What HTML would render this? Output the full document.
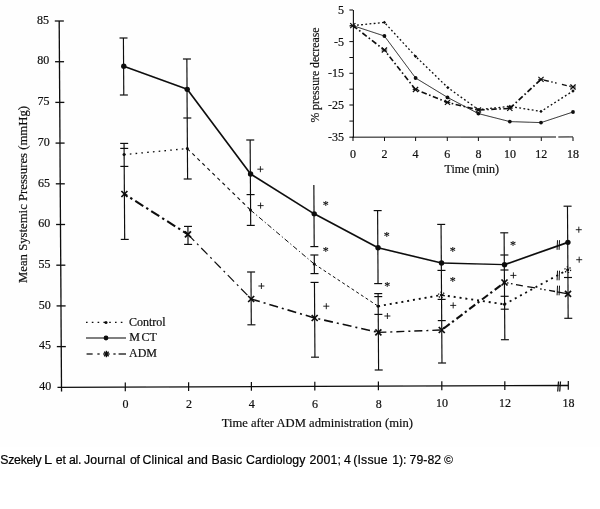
<!DOCTYPE html>
<html lang="en">
<head>
<meta charset="utf-8">
<title>Mean Systemic Pressures after ADM administration</title>
<style>
html,body{margin:0;padding:0;background:#fff;}
body{width:600px;height:509px;overflow:hidden;position:relative;font-family:"Liberation Sans",sans-serif;}
#chart{position:absolute;left:0;top:0;width:600px;height:447px;display:block;}
#chart g.ink{filter:url(#soft);}
#chart line,#chart polyline{stroke:#0c0c0c;stroke-linecap:butt;}
#chart text{fill:#0c0c0c;stroke:#0c0c0c;stroke-width:0.18px;}
#chart g.marks text{transform-box:fill-box;}
#chart text.s{font-family:"Liberation Serif",serif;}
#caption{position:absolute;left:0;top:453px;width:600px;height:14px;margin:0;font-family:"Liberation Sans",sans-serif;font-size:12.3px;line-height:14px;color:#000;white-space:nowrap;}
#caption span{position:absolute;top:0;-webkit-text-stroke:0.2px #000;}
#caption span.c{font-weight:bold;-webkit-text-stroke:0;}
#caption span.w{transform:scaleX(1.2);transform-origin:0 0;}
</style>
</head>
<body>
<svg id="chart" width="600" height="447" viewBox="0 0 600 447">
<rect x="0" y="0" width="600" height="447" fill="#fefefe" stroke="none"/>
<defs><filter id="soft" x="0" y="0" width="600" height="447" filterUnits="userSpaceOnUse"><feGaussianBlur stdDeviation="0.3"/></filter></defs>
<g class="ink">
<line x1="59.20" y1="21.00" x2="61.53" y2="391.50" stroke-width="1.3" />
<line x1="57.50" y1="387.31" x2="568.30" y2="385.50" stroke-width="1.3" />
<line x1="558.50" y1="381.50" x2="557.70" y2="391.50" stroke-width="1.2" stroke="#444"/>
<line x1="560.50" y1="381.50" x2="559.70" y2="391.50" stroke-width="1.2" stroke="#444"/>
<line x1="54.80" y1="21.00" x2="63.80" y2="21.00" stroke-width="1.3" />
<text class="s" x="49.00" y="23.70" font-size="12" text-anchor="end" >85</text>
<line x1="55.06" y1="61.70" x2="64.06" y2="61.70" stroke-width="1.3" />
<text class="s" x="49.26" y="64.40" font-size="12" text-anchor="end" >80</text>
<line x1="55.31" y1="102.40" x2="64.31" y2="102.40" stroke-width="1.3" />
<text class="s" x="49.51" y="105.10" font-size="12" text-anchor="end" >75</text>
<line x1="55.57" y1="143.10" x2="64.57" y2="143.10" stroke-width="1.3" />
<text class="s" x="49.77" y="145.80" font-size="12" text-anchor="end" >70</text>
<line x1="55.82" y1="183.80" x2="64.82" y2="183.80" stroke-width="1.3" />
<text class="s" x="50.02" y="186.50" font-size="12" text-anchor="end" >65</text>
<line x1="56.08" y1="224.50" x2="65.08" y2="224.50" stroke-width="1.3" />
<text class="s" x="50.28" y="227.20" font-size="12" text-anchor="end" >60</text>
<line x1="56.33" y1="265.20" x2="65.33" y2="265.20" stroke-width="1.3" />
<text class="s" x="50.53" y="267.90" font-size="12" text-anchor="end" >55</text>
<line x1="56.59" y1="305.90" x2="65.59" y2="305.90" stroke-width="1.3" />
<text class="s" x="50.79" y="308.60" font-size="12" text-anchor="end" >50</text>
<line x1="56.84" y1="346.60" x2="65.84" y2="346.60" stroke-width="1.3" />
<text class="s" x="51.04" y="349.30" font-size="12" text-anchor="end" >45</text>
<text class="s" x="51.30" y="390.00" font-size="12" text-anchor="end" >40</text>
<line x1="125.30" y1="382.47" x2="125.30" y2="391.27" stroke-width="1.2" />
<text class="s" x="125.60" y="407.80" font-size="12" text-anchor="middle" >0</text>
<line x1="188.60" y1="382.25" x2="188.60" y2="391.05" stroke-width="1.2" />
<text class="s" x="188.90" y="407.80" font-size="12" text-anchor="middle" >2</text>
<line x1="251.40" y1="382.03" x2="251.40" y2="390.83" stroke-width="1.2" />
<text class="s" x="251.70" y="407.80" font-size="12" text-anchor="middle" >4</text>
<line x1="314.80" y1="381.80" x2="314.80" y2="390.60" stroke-width="1.2" />
<text class="s" x="315.10" y="407.80" font-size="12" text-anchor="middle" >6</text>
<line x1="378.40" y1="381.57" x2="378.40" y2="390.37" stroke-width="1.2" />
<text class="s" x="378.70" y="407.80" font-size="12" text-anchor="middle" >8</text>
<line x1="441.80" y1="381.35" x2="441.80" y2="390.15" stroke-width="1.2" />
<text class="s" x="442.10" y="407.00" font-size="12" text-anchor="middle" >10</text>
<line x1="504.80" y1="381.13" x2="504.80" y2="389.93" stroke-width="1.2" />
<text class="s" x="505.10" y="407.00" font-size="12" text-anchor="middle" >12</text>
<line x1="568.30" y1="380.90" x2="568.30" y2="389.70" stroke-width="1.2" />
<text class="s" x="568.60" y="407.00" font-size="12" text-anchor="middle" >18</text>
<text class="s" x="221.70" y="427.30" font-size="12.6" text-anchor="start" textLength="191.3" lengthAdjust="spacingAndGlyphs">Time after ADM administration (min)</text>
<text class="s" font-size="12.6" text-anchor="start" textLength="177" lengthAdjust="spacingAndGlyphs" transform="translate(27.2,283) rotate(-90)">Mean Systemic Pressures (mmHg)</text>
<line x1="123.41" y1="38.00" x2="123.77" y2="95.00" stroke-width="1.15" stroke="#222"/>
<line x1="124.07" y1="143.40" x2="124.68" y2="239.40" stroke-width="1.15" stroke="#222"/>
<line x1="119.51" y1="38.00" x2="127.51" y2="38.00" stroke-width="1.15" />
<line x1="119.87" y1="95.00" x2="127.87" y2="95.00" stroke-width="1.15" />
<line x1="120.17" y1="143.40" x2="128.17" y2="143.40" stroke-width="1.15" />
<line x1="120.20" y1="148.40" x2="128.20" y2="148.40" stroke-width="1.15" />
<line x1="120.32" y1="166.40" x2="128.32" y2="166.40" stroke-width="1.15" />
<line x1="120.78" y1="239.40" x2="128.78" y2="239.40" stroke-width="1.15" />
<line x1="186.84" y1="59.00" x2="187.60" y2="179.00" stroke-width="1.15" stroke="#222"/>
<line x1="187.89" y1="226.40" x2="188.01" y2="244.40" stroke-width="1.15" stroke="#222"/>
<line x1="182.94" y1="59.00" x2="190.94" y2="59.00" stroke-width="1.15" />
<line x1="183.31" y1="118.00" x2="191.31" y2="118.00" stroke-width="1.15" />
<line x1="183.70" y1="179.00" x2="191.70" y2="179.00" stroke-width="1.15" />
<line x1="183.99" y1="226.40" x2="191.99" y2="226.40" stroke-width="1.15" />
<line x1="184.11" y1="244.40" x2="192.11" y2="244.40" stroke-width="1.15" />
<line x1="250.15" y1="140.00" x2="250.69" y2="225.40" stroke-width="1.15" stroke="#222"/>
<line x1="250.98" y1="272.00" x2="251.31" y2="324.80" stroke-width="1.15" stroke="#222"/>
<line x1="246.25" y1="140.00" x2="254.25" y2="140.00" stroke-width="1.15" />
<line x1="246.59" y1="194.60" x2="254.59" y2="194.60" stroke-width="1.15" />
<line x1="246.79" y1="225.40" x2="254.79" y2="225.40" stroke-width="1.15" />
<line x1="247.08" y1="272.00" x2="255.08" y2="272.00" stroke-width="1.15" />
<line x1="247.41" y1="324.80" x2="255.41" y2="324.80" stroke-width="1.15" />
<line x1="313.83" y1="185.00" x2="314.22" y2="246.60" stroke-width="1.15" stroke="#222"/>
<line x1="314.27" y1="255.00" x2="314.39" y2="273.60" stroke-width="1.15" stroke="#222"/>
<line x1="314.45" y1="282.40" x2="314.92" y2="357.20" stroke-width="1.15" stroke="#222"/>
<line x1="310.32" y1="246.60" x2="318.32" y2="246.60" stroke-width="1.15" />
<line x1="310.37" y1="255.00" x2="318.37" y2="255.00" stroke-width="1.15" />
<line x1="310.49" y1="273.60" x2="318.49" y2="273.60" stroke-width="1.15" />
<line x1="310.55" y1="282.40" x2="318.55" y2="282.40" stroke-width="1.15" />
<line x1="311.02" y1="357.20" x2="319.02" y2="357.20" stroke-width="1.15" />
<line x1="377.59" y1="210.60" x2="378.05" y2="283.60" stroke-width="1.15" stroke="#222"/>
<line x1="378.12" y1="293.60" x2="378.60" y2="370.00" stroke-width="1.15" stroke="#222"/>
<line x1="373.69" y1="210.60" x2="381.69" y2="210.60" stroke-width="1.15" />
<line x1="374.15" y1="283.60" x2="382.15" y2="283.60" stroke-width="1.15" />
<line x1="374.22" y1="293.60" x2="382.22" y2="293.60" stroke-width="1.15" />
<line x1="374.24" y1="296.60" x2="382.24" y2="296.60" stroke-width="1.15" />
<line x1="374.35" y1="314.40" x2="382.35" y2="314.40" stroke-width="1.15" />
<line x1="374.70" y1="370.00" x2="382.70" y2="370.00" stroke-width="1.15" />
<line x1="441.08" y1="224.40" x2="441.96" y2="363.00" stroke-width="1.15" stroke="#222"/>
<line x1="437.18" y1="224.40" x2="445.18" y2="224.40" stroke-width="1.15" />
<line x1="437.47" y1="270.40" x2="445.47" y2="270.40" stroke-width="1.15" />
<line x1="437.65" y1="299.40" x2="445.65" y2="299.40" stroke-width="1.15" />
<line x1="437.79" y1="320.60" x2="445.79" y2="320.60" stroke-width="1.15" />
<line x1="438.06" y1="363.00" x2="446.06" y2="363.00" stroke-width="1.15" />
<line x1="504.13" y1="232.80" x2="504.81" y2="339.70" stroke-width="1.15" stroke="#222"/>
<line x1="500.23" y1="232.80" x2="508.23" y2="232.80" stroke-width="1.15" />
<line x1="500.37" y1="255.00" x2="508.37" y2="255.00" stroke-width="1.15" />
<line x1="500.47" y1="270.00" x2="508.47" y2="270.00" stroke-width="1.15" />
<line x1="500.63" y1="296.30" x2="508.63" y2="296.30" stroke-width="1.15" />
<line x1="500.72" y1="309.20" x2="508.72" y2="309.20" stroke-width="1.15" />
<line x1="500.91" y1="339.70" x2="508.91" y2="339.70" stroke-width="1.15" />
<line x1="567.47" y1="206.20" x2="568.17" y2="318.30" stroke-width="1.15" stroke="#222"/>
<line x1="563.57" y1="206.20" x2="571.57" y2="206.20" stroke-width="1.15" />
<line x1="564.02" y1="277.50" x2="572.02" y2="277.50" stroke-width="1.15" />
<line x1="564.27" y1="318.30" x2="572.27" y2="318.30" stroke-width="1.15" />
<polyline points="123.78,66.15 187.23,89.35 250.56,173.95 314.21,213.85 378.03,247.75 441.52,263.05" fill="none" stroke-width="1.65" stroke-linejoin="round"/>
<polyline points="441.52,263.05 504.53,264.65" fill="none" stroke-width="1.4" />
<polyline points="504.53,264.65 567.89,242.35" fill="none" stroke-width="1.65" />
<polyline points="124.04,154.60 187.30,148.60" fill="none" stroke-width="1.3" stroke-dasharray="1.6 4.2"/>
<polyline points="187.30,148.60 250.49,210.00" fill="none" stroke-width="1.1" stroke-dasharray="3.5 3.5"/>
<polyline points="250.49,210.00 314.23,264.00" fill="none" stroke-width="1.0" stroke-dasharray="5 2.5 1.2 2.5"/>
<polyline points="314.23,264.00 378.10,306.20" fill="none" stroke-width="1.0" stroke-dasharray="3 2.6"/>
<polyline points="378.10,306.20 441.43,295.00 504.49,304.30" fill="none" stroke-width="1.9" stroke-dasharray="2 3.9"/>
<polyline points="504.49,304.30 567.77,269.70" fill="none" stroke-width="1.8" stroke-dasharray="2 3.9"/>
<polyline points="124.39,194.00 187.94,234.40" fill="none" stroke-width="2.1" stroke-dasharray="9.5 3.5 2.4 3.5" stroke-dashoffset="6"/>
<polyline points="187.94,234.40 251.15,299.00" fill="none" stroke-width="1.2" stroke-dasharray="9 4 2 4"/>
<polyline points="251.15,299.00 314.67,318.00 378.36,332.40" fill="none" stroke-width="1.6" stroke-dasharray="9 4 2 4"/>
<polyline points="378.36,332.40 441.75,330.00" fill="none" stroke-width="1.4" stroke-dasharray="8 4 2 4"/>
<polyline points="441.75,330.00 504.45,282.50" fill="none" stroke-width="2.1" stroke-dasharray="7.5 3 2.2 3.3" stroke-dashoffset="-2.5"/>
<polyline points="504.45,282.50 568.02,293.80" fill="none" stroke-width="1.3" stroke-dasharray="0 2.5 1.6 2.5 1.6 3.5 7 4.5 8 5 1.6 2.5 1.6 3.5 6 2 40 0"/>
<line x1="557.50" y1="240.20" x2="557.10" y2="249.80" stroke-width="1.0" stroke="#444"/>
<line x1="559.50" y1="240.20" x2="559.10" y2="249.80" stroke-width="1.0" stroke="#444"/>
<line x1="557.50" y1="270.70" x2="557.10" y2="280.30" stroke-width="1.0" stroke="#444"/>
<line x1="559.50" y1="270.70" x2="559.10" y2="280.30" stroke-width="1.0" stroke="#444"/>
<line x1="557.50" y1="285.70" x2="557.10" y2="295.30" stroke-width="1.0" stroke="#444"/>
<line x1="559.50" y1="285.70" x2="559.10" y2="295.30" stroke-width="1.0" stroke="#444"/>
<circle cx="123.78" cy="66.14999999999999" r="2.7" stroke="none" fill="#0c0c0c"/>
<circle cx="187.23" cy="89.35" r="2.7" stroke="none" fill="#0c0c0c"/>
<circle cx="250.56" cy="173.95" r="2.7" stroke="none" fill="#0c0c0c"/>
<circle cx="314.21" cy="213.85" r="2.7" stroke="none" fill="#0c0c0c"/>
<circle cx="378.03" cy="247.75" r="2.7" stroke="none" fill="#0c0c0c"/>
<circle cx="441.52" cy="263.05" r="2.7" stroke="none" fill="#0c0c0c"/>
<circle cx="504.53" cy="264.65000000000003" r="2.7" stroke="none" fill="#0c0c0c"/>
<circle cx="567.89" cy="242.35" r="2.7" stroke="none" fill="#0c0c0c"/>
<circle cx="124.04" cy="154.6" r="1.5" stroke="none" fill="#0c0c0c"/>
<circle cx="187.30" cy="148.6" r="1.5" stroke="none" fill="#0c0c0c"/>
<circle cx="250.49" cy="210" r="1.5" stroke="none" fill="#0c0c0c"/>
<circle cx="314.23" cy="264" r="1.5" stroke="none" fill="#0c0c0c"/>
<circle cx="378.10" cy="306.2" r="1.5" stroke="none" fill="#0c0c0c"/>
<circle cx="441.43" cy="295" r="1.5" stroke="none" fill="#0c0c0c"/>
<circle cx="504.49" cy="304.3" r="1.5" stroke="none" fill="#0c0c0c"/>
<circle cx="567.77" cy="269.7" r="1.5" stroke="none" fill="#0c0c0c"/>
<circle cx="441.43" cy="295" r="2.9" fill="none" stroke="#0c0c0c" stroke-width="1.2" stroke-dasharray="1.3 1.75"/>
<circle cx="567.77" cy="269.7" r="2.9" fill="none" stroke="#0c0c0c" stroke-width="1.2" stroke-dasharray="1.3 1.75"/>
<line x1="121.39" y1="191.00" x2="127.39" y2="197.00" stroke-width="1.7" />
<line x1="121.39" y1="197.00" x2="127.39" y2="191.00" stroke-width="1.7" />
<line x1="184.94" y1="231.40" x2="190.94" y2="237.40" stroke-width="1.7" />
<line x1="184.94" y1="237.40" x2="190.94" y2="231.40" stroke-width="1.7" />
<line x1="248.15" y1="296.00" x2="254.15" y2="302.00" stroke-width="1.7" />
<line x1="248.15" y1="302.00" x2="254.15" y2="296.00" stroke-width="1.7" />
<line x1="311.67" y1="315.00" x2="317.67" y2="321.00" stroke-width="1.7" />
<line x1="311.67" y1="321.00" x2="317.67" y2="315.00" stroke-width="1.7" />
<line x1="375.36" y1="329.40" x2="381.36" y2="335.40" stroke-width="1.7" />
<line x1="375.36" y1="335.40" x2="381.36" y2="329.40" stroke-width="1.7" />
<line x1="438.75" y1="327.00" x2="444.75" y2="333.00" stroke-width="1.7" />
<line x1="438.75" y1="333.00" x2="444.75" y2="327.00" stroke-width="1.7" />
<line x1="501.45" y1="279.50" x2="507.45" y2="285.50" stroke-width="1.7" />
<line x1="501.45" y1="285.50" x2="507.45" y2="279.50" stroke-width="1.7" />
<line x1="565.02" y1="290.80" x2="571.02" y2="296.80" stroke-width="1.7" />
<line x1="565.02" y1="296.80" x2="571.02" y2="290.80" stroke-width="1.7" />
<line x1="257.40" y1="169.20" x2="263.40" y2="169.20" stroke-width="0.9" />
<line x1="260.40" y1="166.20" x2="260.40" y2="172.20" stroke-width="0.9" />
<line x1="257.60" y1="205.60" x2="263.60" y2="205.60" stroke-width="0.9" />
<line x1="260.60" y1="202.60" x2="260.60" y2="208.60" stroke-width="0.9" />
<line x1="258.40" y1="286.00" x2="264.40" y2="286.00" stroke-width="0.9" />
<line x1="261.40" y1="283.00" x2="261.40" y2="289.00" stroke-width="0.9" />
<line x1="323.30" y1="306.20" x2="329.30" y2="306.20" stroke-width="0.9" />
<line x1="326.30" y1="303.20" x2="326.30" y2="309.20" stroke-width="0.9" />
<line x1="384.40" y1="316.00" x2="390.40" y2="316.00" stroke-width="0.9" />
<line x1="387.40" y1="313.00" x2="387.40" y2="319.00" stroke-width="0.9" />
<line x1="450.20" y1="305.40" x2="456.20" y2="305.40" stroke-width="0.9" />
<line x1="453.20" y1="302.40" x2="453.20" y2="308.40" stroke-width="0.9" />
<line x1="510.40" y1="275.40" x2="516.40" y2="275.40" stroke-width="0.9" />
<line x1="513.40" y1="272.40" x2="513.40" y2="278.40" stroke-width="0.9" />
<line x1="575.80" y1="229.70" x2="581.80" y2="229.70" stroke-width="0.9" />
<line x1="578.80" y1="226.70" x2="578.80" y2="232.70" stroke-width="0.9" />
<line x1="576.20" y1="259.70" x2="582.20" y2="259.70" stroke-width="0.9" />
<line x1="579.20" y1="256.70" x2="579.20" y2="262.70" stroke-width="0.9" />
<line x1="86.00" y1="322.40" x2="124.50" y2="322.40" stroke-width="1.3" stroke-dasharray="1.6 4.2"/>
<circle cx="106" cy="322.4" r="1.5" stroke="none" fill="#0c0c0c"/>
<text class="s" x="129.00" y="325.50" font-size="12" text-anchor="start" >Control</text>
<line x1="86.00" y1="338.00" x2="126.00" y2="338.00" stroke-width="1.2" />
<circle cx="106" cy="338" r="2.4" stroke="none" fill="#0c0c0c"/>
<text class="s" font-size="12" y="341.2"><tspan x="129.2">M</tspan><tspan x="141.6">CT</tspan></text>
<line x1="86.60" y1="354.00" x2="92.60" y2="354.00" stroke-width="1.3" />
<line x1="97.40" y1="354.00" x2="99.60" y2="354.00" stroke-width="1.3" />
<line x1="113.40" y1="354.00" x2="115.60" y2="354.00" stroke-width="1.3" />
<line x1="118.60" y1="354.00" x2="126.00" y2="354.00" stroke-width="1.3" />
<line x1="103.20" y1="354.00" x2="109.60" y2="354.00" stroke-width="1.4" />
<line x1="104.14" y1="351.74" x2="108.66" y2="356.26" stroke-width="1.4" />
<line x1="106.40" y1="350.80" x2="106.40" y2="357.20" stroke-width="1.4" />
<line x1="108.66" y1="351.74" x2="104.14" y2="356.26" stroke-width="1.4" />
<text class="s" x="129.00" y="357.20" font-size="12" text-anchor="start" >ADM</text>
<line x1="353.40" y1="10.00" x2="353.40" y2="137.70" stroke-width="1.1" />
<line x1="352.50" y1="137.20" x2="556.00" y2="137.00" stroke-width="1.0" />
<line x1="558.30" y1="137.00" x2="573.00" y2="136.90" stroke-width="1.0" />
<line x1="349.40" y1="10.00" x2="353.00" y2="10.00" stroke-width="1.0" />
<line x1="349.40" y1="25.90" x2="353.00" y2="25.90" stroke-width="1.0" />
<line x1="349.40" y1="41.60" x2="353.00" y2="41.60" stroke-width="1.0" />
<line x1="349.40" y1="57.50" x2="353.00" y2="57.50" stroke-width="1.0" />
<line x1="349.40" y1="73.30" x2="353.00" y2="73.30" stroke-width="1.0" />
<line x1="349.40" y1="89.20" x2="353.00" y2="89.20" stroke-width="1.0" />
<line x1="349.40" y1="105.00" x2="353.00" y2="105.00" stroke-width="1.0" />
<line x1="349.40" y1="121.10" x2="353.00" y2="121.10" stroke-width="1.0" />
<line x1="349.40" y1="137.20" x2="353.00" y2="137.20" stroke-width="1.0" />
<text class="s" x="344.00" y="14.00" font-size="12" text-anchor="end" >5</text>
<text class="s" x="344.00" y="45.60" font-size="12" text-anchor="end" >-5</text>
<text class="s" x="344.00" y="77.30" font-size="12" text-anchor="end" >-15</text>
<text class="s" x="344.00" y="109.00" font-size="12" text-anchor="end" >-25</text>
<text class="s" x="344.00" y="141.20" font-size="12" text-anchor="end" >-35</text>
<line x1="353.00" y1="137.20" x2="353.00" y2="141.00" stroke-width="1.0" />
<text class="s" x="353.00" y="157.50" font-size="12" text-anchor="middle" >0</text>
<line x1="384.50" y1="137.20" x2="384.50" y2="141.00" stroke-width="1.0" />
<text class="s" x="384.50" y="157.50" font-size="12" text-anchor="middle" >2</text>
<line x1="415.60" y1="137.20" x2="415.60" y2="141.00" stroke-width="1.0" />
<text class="s" x="415.60" y="157.50" font-size="12" text-anchor="middle" >4</text>
<line x1="447.30" y1="137.20" x2="447.30" y2="141.00" stroke-width="1.0" />
<text class="s" x="447.30" y="157.50" font-size="12" text-anchor="middle" >6</text>
<line x1="478.40" y1="137.20" x2="478.40" y2="141.00" stroke-width="1.0" />
<text class="s" x="478.40" y="157.50" font-size="12" text-anchor="middle" >8</text>
<line x1="510.00" y1="137.20" x2="510.00" y2="141.00" stroke-width="1.0" />
<text class="s" x="510.00" y="157.50" font-size="12" text-anchor="middle" >10</text>
<line x1="541.30" y1="137.20" x2="541.30" y2="141.00" stroke-width="1.0" />
<text class="s" x="541.30" y="157.50" font-size="12" text-anchor="middle" >12</text>
<line x1="573.00" y1="137.20" x2="573.00" y2="141.00" stroke-width="1.0" />
<text class="s" x="573.00" y="157.50" font-size="12" text-anchor="middle" >18</text>
<text class="s" x="471.80" y="172.60" font-size="12" text-anchor="middle" >Time (min)</text>
<text class="s" font-size="11.8" text-anchor="start" textLength="95" lengthAdjust="spacingAndGlyphs" transform="translate(319.4,122.6) rotate(-90)">% pressure decrease</text>
<polyline points="352.80,25.60 384.40,36.00 415.60,78.00 447.50,97.40 478.40,113.60 509.80,121.60 541.00,122.60" fill="none" stroke-width="0.8" stroke="#555"/>
<polyline points="541.00,122.60 573.00,112.00" fill="none" stroke-width="0.8" stroke="#999"/>
<polyline points="352.80,25.60 384.40,22.40 415.60,56.40 447.80,87.60 478.40,109.60 509.80,106.40 541.00,111.40 573.00,91.00" fill="none" stroke-width="1.3" stroke-dasharray="1.8 2.4"/>
<polyline points="352.80,25.60 384.40,50.00 415.50,89.50 447.50,102.40 478.40,110.00 509.80,108.40" fill="none" stroke-width="1.6" stroke-dasharray="5.5 2.5 1.6 2.5"/>
<polyline points="509.80,108.40 541.00,79.40" fill="none" stroke-width="1.8" stroke-dasharray="5.5 2.5 1.6 2.5"/>
<polyline points="541.00,79.40 573.00,87.00" fill="none" stroke-width="1.3" stroke-dasharray="0 3 5 2.5 1.5 2.5 1.5 2.5"/>
<circle cx="384.4" cy="36" r="1.9" stroke="none" fill="#0c0c0c"/>
<circle cx="415.6" cy="78" r="1.9" stroke="none" fill="#0c0c0c"/>
<circle cx="447.5" cy="97.4" r="1.9" stroke="none" fill="#0c0c0c"/>
<circle cx="478.4" cy="113.6" r="1.9" stroke="none" fill="#0c0c0c"/>
<circle cx="509.8" cy="121.6" r="1.9" stroke="none" fill="#0c0c0c"/>
<circle cx="541" cy="122.6" r="1.9" stroke="none" fill="#0c0c0c"/>
<circle cx="573" cy="112" r="1.9" stroke="none" fill="#0c0c0c"/>
<rect x="383.20" y="21.20" width="2.4" height="2.4" transform="rotate(45 384.4 22.4)" stroke="none" fill="#0c0c0c"/>
<rect x="414.40" y="55.20" width="2.4" height="2.4" transform="rotate(45 415.6 56.4)" stroke="none" fill="#0c0c0c"/>
<rect x="446.60" y="86.40" width="2.4" height="2.4" transform="rotate(45 447.8 87.6)" stroke="none" fill="#0c0c0c"/>
<rect x="477.20" y="108.40" width="2.4" height="2.4" transform="rotate(45 478.4 109.6)" stroke="none" fill="#0c0c0c"/>
<rect x="508.60" y="105.20" width="2.4" height="2.4" transform="rotate(45 509.8 106.4)" stroke="none" fill="#0c0c0c"/>
<rect x="539.80" y="110.20" width="2.4" height="2.4" transform="rotate(45 541 111.4)" stroke="none" fill="#0c0c0c"/>
<rect x="571.80" y="89.80" width="2.4" height="2.4" transform="rotate(45 573 91)" stroke="none" fill="#0c0c0c"/>
<line x1="350.20" y1="23.10" x2="355.40" y2="28.10" stroke-width="1.2" />
<line x1="350.20" y1="28.10" x2="355.40" y2="23.10" stroke-width="1.2" />
<line x1="350.00" y1="25.60" x2="355.60" y2="25.60" stroke-width="0.9" />
<line x1="381.80" y1="47.50" x2="387.00" y2="52.50" stroke-width="1.2" />
<line x1="381.80" y1="52.50" x2="387.00" y2="47.50" stroke-width="1.2" />
<line x1="381.60" y1="50.00" x2="387.20" y2="50.00" stroke-width="0.9" />
<line x1="412.90" y1="87.00" x2="418.10" y2="92.00" stroke-width="1.2" />
<line x1="412.90" y1="92.00" x2="418.10" y2="87.00" stroke-width="1.2" />
<line x1="412.70" y1="89.50" x2="418.30" y2="89.50" stroke-width="0.9" />
<line x1="444.90" y1="99.90" x2="450.10" y2="104.90" stroke-width="1.2" />
<line x1="444.90" y1="104.90" x2="450.10" y2="99.90" stroke-width="1.2" />
<line x1="444.70" y1="102.40" x2="450.30" y2="102.40" stroke-width="0.9" />
<line x1="475.80" y1="107.50" x2="481.00" y2="112.50" stroke-width="1.2" />
<line x1="475.80" y1="112.50" x2="481.00" y2="107.50" stroke-width="1.2" />
<line x1="475.60" y1="110.00" x2="481.20" y2="110.00" stroke-width="0.9" />
<line x1="507.20" y1="105.90" x2="512.40" y2="110.90" stroke-width="1.2" />
<line x1="507.20" y1="110.90" x2="512.40" y2="105.90" stroke-width="1.2" />
<line x1="507.00" y1="108.40" x2="512.60" y2="108.40" stroke-width="0.9" />
<line x1="538.40" y1="76.90" x2="543.60" y2="81.90" stroke-width="1.2" />
<line x1="538.40" y1="81.90" x2="543.60" y2="76.90" stroke-width="1.2" />
<line x1="538.20" y1="79.40" x2="543.80" y2="79.40" stroke-width="0.9" />
<line x1="570.40" y1="84.50" x2="575.60" y2="89.50" stroke-width="1.2" />
<line x1="570.40" y1="89.50" x2="575.60" y2="84.50" stroke-width="1.2" />
<line x1="570.20" y1="87.00" x2="575.80" y2="87.00" stroke-width="0.9" />
</g>
<g class="marks">
<text class="s" x="325.80" y="209.30" font-size="12" text-anchor="middle" stroke="#0c0c0c" stroke-width="0.4">*</text>
<text class="s" x="325.80" y="255.10" font-size="12" text-anchor="middle" stroke="#0c0c0c" stroke-width="0.4">*</text>
<text class="s" x="386.80" y="239.90" font-size="12" text-anchor="middle" stroke="#0c0c0c" stroke-width="0.4">*</text>
<text class="s" x="387.20" y="289.90" font-size="12" text-anchor="middle" stroke="#0c0c0c" stroke-width="0.4">*</text>
<text class="s" x="452.80" y="254.90" font-size="12" text-anchor="middle" stroke="#0c0c0c" stroke-width="0.4">*</text>
<text class="s" x="452.80" y="284.50" font-size="12" text-anchor="middle" stroke="#0c0c0c" stroke-width="0.4">*</text>
<text class="s" x="513.10" y="249.20" font-size="12" text-anchor="middle" stroke="#0c0c0c" stroke-width="0.4">*</text>
</g>
</svg>
<p id="caption"><span style="left:0.2px;letter-spacing:-0.25px">Szekely</span> <span class="w" style="left:43.7px;letter-spacing:0px">L</span> <span style="left:55.8px;letter-spacing:-0.25px">et</span> <span style="left:69.0px;letter-spacing:-0.3px">al.</span> <span style="left:83.9px;letter-spacing:0.2px">Journal</span> <span style="left:130.0px;letter-spacing:-0.25px">of</span> <span style="left:142.4px;letter-spacing:0.15px">Clinical</span> <span style="left:187.2px;letter-spacing:0.1px">and</span> <span style="left:211.4px;letter-spacing:0.2px">Basic</span> <span style="left:246.1px;letter-spacing:0.05px">Cardiology</span> <span style="left:309.4px;letter-spacing:0.2px">2001;</span> <span style="left:344.0px;letter-spacing:0px">4</span> <span style="left:353.2px;letter-spacing:0.2px">(Issue</span> <span style="left:392.3px;letter-spacing:-0.15px">1):</span> <span style="left:409.5px;letter-spacing:0.05px">79-82</span> <span class="c" style="left:444.1px;letter-spacing:0px">©</span></p>
</body>
</html>
